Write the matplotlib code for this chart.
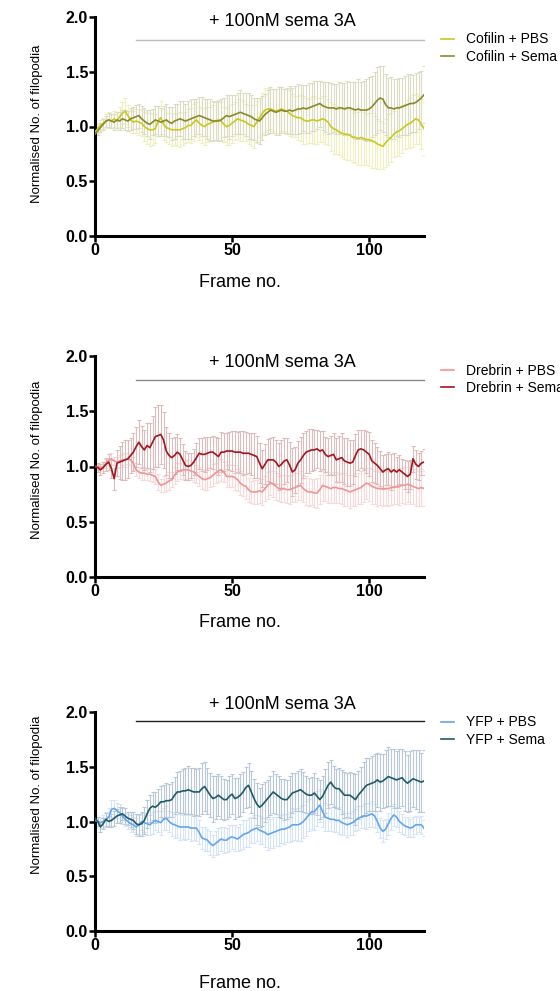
import matplotlib
matplotlib.use("Agg")
import matplotlib.pyplot as plt
import numpy as np

plt.rcParams['font.family'] = ['Liberation Sans', 'DejaVu Sans']

frames = list(range(121))

cofilin_pbs = [0.95, 0.98, 1.01, 1.03, 1.05, 1.06, 1.05, 1.07, 1.05, 1.09,
               1.12, 1.14, 1.10, 1.06, 1.04, 1.05, 1.04, 1.03, 1.00, 0.98,
               0.97, 0.97, 0.98, 1.05, 1.08, 1.02, 0.99, 0.98, 0.97, 0.97,
               0.97, 0.97, 0.98, 0.99, 1.01, 1.01, 1.04, 1.06, 1.03, 1.01,
               1.00, 1.02, 1.03, 1.04, 1.05, 1.06, 1.05, 1.02, 1.00, 1.01,
               1.03, 1.05, 1.07, 1.06, 1.05, 1.04, 1.02, 1.01, 1.00, 1.04,
               1.08, 1.12, 1.15, 1.16, 1.16, 1.15, 1.14, 1.15, 1.16, 1.15,
               1.14, 1.12, 1.10, 1.09, 1.08, 1.08, 1.06, 1.05, 1.05, 1.06,
               1.06, 1.05, 1.06, 1.07, 1.06, 1.04, 1.00, 0.98, 0.97, 0.95,
               0.94, 0.93, 0.93, 0.92, 0.90, 0.90, 0.89, 0.90, 0.89, 0.88,
               0.88, 0.87, 0.86, 0.84, 0.83, 0.82, 0.85, 0.88, 0.90, 0.93,
               0.95, 0.96, 0.98, 1.00, 1.02, 1.03, 1.05, 1.07, 1.06, 1.02,
               0.98]
cofilin_sema = [0.93, 0.96, 0.99, 1.02, 1.05, 1.06, 1.05, 1.04, 1.06, 1.05,
                1.07, 1.06, 1.05, 1.07, 1.08, 1.09, 1.10, 1.07, 1.05, 1.03,
                1.02, 1.04, 1.06, 1.05, 1.04, 1.05, 1.06, 1.04, 1.03, 1.05,
                1.06, 1.07, 1.06, 1.05, 1.06, 1.07, 1.08, 1.09, 1.10, 1.09,
                1.08, 1.07, 1.06, 1.05, 1.05, 1.05, 1.06, 1.08, 1.10, 1.09,
                1.10, 1.11, 1.12, 1.13, 1.12, 1.11, 1.10, 1.09, 1.07, 1.06,
                1.05, 1.08, 1.11, 1.13, 1.15, 1.14, 1.13, 1.14, 1.15, 1.14,
                1.14, 1.15, 1.14, 1.15, 1.16, 1.16, 1.17, 1.16, 1.17, 1.18,
                1.19, 1.20, 1.21, 1.19, 1.18, 1.17, 1.17, 1.17, 1.16, 1.17,
                1.17, 1.16, 1.17, 1.17, 1.16, 1.15, 1.16, 1.15, 1.15, 1.15,
                1.16, 1.18, 1.21, 1.24, 1.26, 1.25, 1.20, 1.17, 1.17, 1.16,
                1.17, 1.17, 1.18, 1.19, 1.20, 1.21, 1.21, 1.22, 1.24, 1.26,
                1.29]
cofilin_pbs_err = [0.03, 0.04, 0.05, 0.05, 0.06, 0.07, 0.06, 0.07, 0.08, 0.09,
                   0.10, 0.12, 0.10, 0.09, 0.10, 0.11, 0.12, 0.12, 0.13, 0.14,
                   0.15, 0.14, 0.13, 0.14, 0.15, 0.14, 0.13, 0.14, 0.15, 0.14,
                   0.15, 0.16, 0.15, 0.14, 0.15, 0.16, 0.17, 0.16, 0.15, 0.16,
                   0.17, 0.16, 0.15, 0.16, 0.17, 0.18, 0.17, 0.16, 0.17, 0.18,
                   0.18, 0.17, 0.18, 0.19, 0.18, 0.17, 0.18, 0.19, 0.20, 0.19,
                   0.18, 0.19, 0.20, 0.19, 0.18, 0.19, 0.20, 0.21, 0.20, 0.19,
                   0.20, 0.21, 0.20, 0.19, 0.20, 0.21, 0.22, 0.21, 0.20, 0.21,
                   0.22, 0.21, 0.20, 0.21, 0.22, 0.21, 0.22, 0.23, 0.22, 0.21,
                   0.22, 0.23, 0.24, 0.23, 0.22, 0.23, 0.24, 0.25, 0.24, 0.23,
                   0.24, 0.25, 0.24, 0.23, 0.22, 0.21, 0.22, 0.23, 0.22, 0.21,
                   0.22, 0.23, 0.22, 0.21, 0.22, 0.23, 0.24, 0.23, 0.22, 0.23,
                   0.24]
cofilin_sema_err = [0.03, 0.04, 0.04, 0.05, 0.05, 0.06, 0.06, 0.07, 0.07, 0.08,
                    0.08, 0.09, 0.09, 0.10, 0.10, 0.11, 0.11, 0.12, 0.12, 0.12,
                    0.13, 0.12, 0.13, 0.14, 0.13, 0.14, 0.15, 0.14, 0.15, 0.16,
                    0.15, 0.16, 0.17, 0.16, 0.17, 0.18, 0.17, 0.16, 0.17, 0.18,
                    0.17, 0.18, 0.19, 0.18, 0.17, 0.18, 0.19, 0.18, 0.19, 0.20,
                    0.19, 0.18, 0.19, 0.20, 0.19, 0.20, 0.21, 0.20, 0.19, 0.20,
                    0.21, 0.20, 0.19, 0.20, 0.21, 0.20, 0.21, 0.22, 0.21, 0.20,
                    0.21, 0.22, 0.21, 0.22, 0.23, 0.22, 0.21, 0.22, 0.23, 0.22,
                    0.23, 0.22, 0.21, 0.22, 0.23, 0.24, 0.23, 0.22, 0.23, 0.24,
                    0.23, 0.24, 0.25, 0.24, 0.25, 0.26, 0.27, 0.26, 0.27, 0.28,
                    0.29, 0.28, 0.29, 0.30, 0.29, 0.30, 0.28, 0.27, 0.28, 0.27,
                    0.26, 0.27, 0.26, 0.27, 0.28, 0.27, 0.26, 0.27, 0.26, 0.25,
                    0.26]

drebrin_pbs = [1.00, 1.00, 0.99, 1.00, 1.03, 1.06, 1.07, 1.05, 1.04, 1.05,
               1.06, 1.06, 1.07, 1.06, 1.03, 0.97, 0.95, 0.94, 0.94, 0.93,
               0.93, 0.92, 0.91, 0.86, 0.83, 0.84, 0.85, 0.87, 0.88, 0.92,
               0.95, 0.96, 0.97, 0.97, 0.97, 0.96, 0.95, 0.93, 0.91, 0.89,
               0.88, 0.89, 0.90, 0.92, 0.94, 0.96, 0.97, 0.95, 0.91, 0.91,
               0.91, 0.90, 0.88, 0.85, 0.83, 0.82, 0.79, 0.77, 0.77, 0.77,
               0.78, 0.77, 0.80, 0.83, 0.85, 0.84, 0.82, 0.80, 0.80, 0.80,
               0.79, 0.79, 0.80, 0.81, 0.82, 0.83, 0.80, 0.78, 0.77, 0.77,
               0.76, 0.76, 0.79, 0.83, 0.82, 0.81, 0.80, 0.81, 0.81, 0.80,
               0.80, 0.79, 0.78, 0.77, 0.78, 0.79, 0.80, 0.81, 0.83, 0.85,
               0.84, 0.82, 0.81, 0.80, 0.80, 0.80, 0.80, 0.80, 0.81, 0.81,
               0.82, 0.82, 0.83, 0.83, 0.84, 0.83, 0.82, 0.81, 0.80, 0.81,
               0.80]
drebrin_sema = [1.00, 0.99, 0.97, 0.99, 1.02, 1.04, 0.98, 0.89, 1.03, 1.04,
                1.05, 1.06, 1.07, 1.10, 1.13, 1.18, 1.22, 1.18, 1.15, 1.19,
                1.17, 1.22, 1.27, 1.28, 1.29, 1.24, 1.14, 1.10, 1.08, 1.10,
                1.13, 1.11, 1.06, 1.01, 1.00, 1.01, 1.04, 1.08, 1.12, 1.11,
                1.11, 1.12, 1.13, 1.13, 1.11, 1.09, 1.13, 1.13, 1.14, 1.14,
                1.14, 1.13, 1.13, 1.13, 1.12, 1.12, 1.12, 1.11, 1.10, 1.09,
                1.03, 0.98, 1.02, 1.06, 1.06, 1.06, 1.04, 1.00, 1.02, 1.05,
                1.06, 1.01, 0.95, 0.97, 1.03, 1.06, 1.10, 1.13, 1.14, 1.15,
                1.15, 1.16, 1.14, 1.15, 1.11, 1.09, 1.10, 1.11, 1.06, 1.07,
                1.08, 1.05, 1.04, 1.03, 1.04, 1.10, 1.15, 1.16, 1.15, 1.13,
                1.11, 1.05, 1.03, 1.01, 0.98, 0.95, 0.97, 0.98, 0.95, 0.97,
                0.95, 0.97, 0.95, 0.93, 0.91, 0.93, 1.07, 1.02, 1.00, 1.03,
                1.04]
drebrin_pbs_err = [0.02, 0.03, 0.03, 0.04, 0.04, 0.05, 0.05, 0.04, 0.05, 0.05,
                   0.05, 0.06, 0.05, 0.05, 0.06, 0.06, 0.05, 0.06, 0.06, 0.05,
                   0.06, 0.06, 0.07, 0.07, 0.06, 0.07, 0.07, 0.08, 0.07, 0.08,
                   0.08, 0.07, 0.08, 0.08, 0.09, 0.08, 0.09, 0.08, 0.09, 0.09,
                   0.09, 0.10, 0.09, 0.10, 0.09, 0.10, 0.10, 0.09, 0.10, 0.10,
                   0.10, 0.11, 0.10, 0.11, 0.10, 0.11, 0.11, 0.10, 0.11, 0.11,
                   0.11, 0.12, 0.11, 0.12, 0.11, 0.12, 0.12, 0.11, 0.12, 0.12,
                   0.12, 0.13, 0.12, 0.13, 0.12, 0.13, 0.12, 0.13, 0.13, 0.12,
                   0.13, 0.14, 0.13, 0.14, 0.13, 0.14, 0.13, 0.14, 0.14, 0.13,
                   0.14, 0.15, 0.14, 0.15, 0.14, 0.15, 0.14, 0.15, 0.15, 0.14,
                   0.15, 0.16, 0.15, 0.16, 0.15, 0.16, 0.15, 0.16, 0.16, 0.15,
                   0.16, 0.17, 0.16, 0.17, 0.16, 0.17, 0.16, 0.17, 0.16, 0.17,
                   0.16]
drebrin_sema_err = [0.03, 0.04, 0.05, 0.05, 0.06, 0.07, 0.08, 0.10, 0.12, 0.15,
                    0.17, 0.18, 0.17, 0.16, 0.17, 0.18, 0.20, 0.19, 0.18, 0.20,
                    0.22, 0.24, 0.27, 0.28, 0.27, 0.25, 0.22, 0.20, 0.18, 0.17,
                    0.16, 0.15, 0.14, 0.13, 0.12, 0.11, 0.12, 0.13, 0.14, 0.15,
                    0.16, 0.15, 0.14, 0.15, 0.16, 0.17, 0.18, 0.17, 0.16, 0.17,
                    0.18, 0.19, 0.18, 0.19, 0.20, 0.19, 0.18, 0.19, 0.20, 0.19,
                    0.18, 0.17, 0.18, 0.19, 0.20, 0.21, 0.20, 0.21, 0.22, 0.21,
                    0.20, 0.21, 0.22, 0.21, 0.20, 0.21, 0.20, 0.19, 0.20, 0.19,
                    0.18, 0.17, 0.18, 0.17, 0.16, 0.17, 0.18, 0.19, 0.20, 0.21,
                    0.22, 0.21, 0.22, 0.21, 0.20, 0.19, 0.18, 0.17, 0.18, 0.19,
                    0.20, 0.19, 0.18, 0.17, 0.16, 0.15, 0.14, 0.15, 0.16, 0.15,
                    0.14, 0.13, 0.12, 0.13, 0.14, 0.13, 0.12, 0.13, 0.12, 0.11,
                    0.12]

yfp_pbs = [1.01, 1.00, 0.99, 1.00, 1.02, 1.04, 1.11, 1.12, 1.10, 1.08,
           1.05, 1.02, 1.00, 0.98, 0.97, 0.95, 0.97, 1.00, 0.99, 0.98,
           0.97, 0.99, 1.01, 1.00, 0.99, 1.02, 1.03, 1.00, 0.98, 0.97,
           0.96, 0.95, 0.95, 0.95, 0.95, 0.94, 0.94, 0.94, 0.90, 0.85,
           0.84, 0.83, 0.80, 0.78, 0.80, 0.82, 0.84, 0.83, 0.83, 0.85,
           0.86, 0.85, 0.84, 0.86, 0.88, 0.89, 0.90, 0.92, 0.93, 0.94,
           0.92, 0.91, 0.90, 0.88, 0.89, 0.90, 0.91, 0.92, 0.93, 0.93,
           0.94, 0.95, 0.97, 0.97, 0.97, 0.98, 1.00, 1.03, 1.06, 1.09,
           1.09, 1.12, 1.15, 1.09, 1.04, 1.03, 1.02, 1.02, 1.01, 1.01,
           0.99, 0.98, 0.97, 0.98, 0.99, 1.01, 1.03, 1.04, 1.05, 1.05,
           1.06, 1.07, 1.05, 1.00, 0.94, 0.91, 0.93, 0.98, 1.03, 1.06,
           1.04, 1.00, 0.98, 0.96, 0.95, 0.94, 0.95, 0.97, 0.97, 0.97,
           0.94]
yfp_sema = [1.03, 1.00, 0.95, 0.98, 1.02, 1.00, 1.01, 1.03, 1.05, 1.06,
            1.07, 1.05, 1.03, 1.02, 1.01, 0.98, 0.97, 0.98, 1.01, 1.07,
            1.12, 1.14, 1.13, 1.15, 1.18, 1.18, 1.19, 1.19, 1.20, 1.24,
            1.27, 1.27, 1.28, 1.28, 1.29, 1.28, 1.27, 1.27, 1.27, 1.30,
            1.32, 1.28, 1.24, 1.21, 1.22, 1.24, 1.22, 1.20, 1.20, 1.23,
            1.25, 1.21, 1.22, 1.24, 1.27, 1.31, 1.33, 1.27, 1.21, 1.16,
            1.13, 1.15, 1.18, 1.21, 1.24, 1.27, 1.25, 1.23, 1.21, 1.20,
            1.20, 1.23, 1.26, 1.27, 1.28, 1.29, 1.27, 1.25, 1.24, 1.24,
            1.26, 1.23, 1.20, 1.23, 1.28, 1.33, 1.36, 1.32, 1.30, 1.30,
            1.27, 1.24, 1.24, 1.24, 1.22, 1.20, 1.24, 1.27, 1.30, 1.33,
            1.34, 1.35, 1.36, 1.38, 1.36, 1.37, 1.39, 1.41, 1.40, 1.39,
            1.38, 1.39, 1.40, 1.37, 1.35, 1.37, 1.39, 1.38, 1.37, 1.36,
            1.37]
yfp_pbs_err = [0.03, 0.04, 0.05, 0.06, 0.07, 0.08, 0.09, 0.08, 0.07, 0.08,
               0.07, 0.06, 0.07, 0.08, 0.07, 0.08, 0.09, 0.08, 0.09, 0.10,
               0.09, 0.10, 0.09, 0.10, 0.11, 0.10, 0.11, 0.10, 0.11, 0.12,
               0.11, 0.12, 0.11, 0.12, 0.11, 0.12, 0.11, 0.12, 0.11, 0.10,
               0.11, 0.10, 0.11, 0.10, 0.11, 0.12, 0.11, 0.12, 0.11, 0.12,
               0.11, 0.12, 0.11, 0.12, 0.13, 0.12, 0.13, 0.12, 0.13, 0.12,
               0.13, 0.12, 0.13, 0.14, 0.13, 0.14, 0.13, 0.14, 0.13, 0.14,
               0.13, 0.14, 0.15, 0.14, 0.15, 0.16, 0.15, 0.16, 0.15, 0.16,
               0.17, 0.16, 0.15, 0.14, 0.13, 0.12, 0.11, 0.12, 0.11, 0.12,
               0.11, 0.10, 0.11, 0.10, 0.11, 0.10, 0.11, 0.10, 0.11, 0.12,
               0.11, 0.12, 0.11, 0.10, 0.09, 0.10, 0.09, 0.10, 0.11, 0.10,
               0.09, 0.10, 0.09, 0.08, 0.09, 0.08, 0.09, 0.08, 0.07, 0.08,
               0.07]
yfp_sema_err = [0.03, 0.04, 0.05, 0.05, 0.06, 0.05, 0.06, 0.07, 0.06, 0.07,
                0.06, 0.07, 0.06, 0.07, 0.08, 0.09, 0.10, 0.11, 0.12, 0.13,
                0.12, 0.13, 0.14, 0.15, 0.14, 0.15, 0.16, 0.15, 0.16, 0.17,
                0.18, 0.19, 0.20, 0.21, 0.22, 0.21, 0.22, 0.21, 0.22, 0.23,
                0.22, 0.21, 0.20, 0.21, 0.20, 0.19, 0.20, 0.19, 0.18, 0.19,
                0.18, 0.19, 0.18, 0.19, 0.18, 0.19, 0.20, 0.19, 0.18, 0.19,
                0.18, 0.19, 0.18, 0.17, 0.18, 0.19, 0.18, 0.19, 0.18, 0.19,
                0.18, 0.19, 0.18, 0.17, 0.18, 0.19, 0.18, 0.17, 0.16, 0.17,
                0.18, 0.17, 0.18, 0.19, 0.20, 0.21, 0.20, 0.19, 0.18, 0.19,
                0.20, 0.21, 0.20, 0.21, 0.22, 0.23, 0.22, 0.23, 0.24, 0.25,
                0.24, 0.25, 0.26, 0.25, 0.26, 0.25, 0.26, 0.27, 0.26, 0.27,
                0.26, 0.27, 0.26, 0.27, 0.26, 0.27, 0.26, 0.27, 0.28, 0.27,
                0.28]

treatment_label = "+ 100nM sema 3A"
treatment_start = 15
treatment_end = 120

panels = [
    dict(pos=[95, 17, 329, 219],
         series=[("Cofilin + PBS", cofilin_pbs, cofilin_pbs_err, '#c9c91e', '#efefbf'),
                 ("Cofilin + Sema", cofilin_sema, cofilin_sema_err, '#8a8a26', '#dcdcc4')],
         bar_y=1.79, bar_color='#bdbdbd', text_y=1.96,
         leg_y=0.955, ylab_y=0.51, xlab_y=-0.175),
    dict(pos=[95, 356, 329, 221],
         series=[("Drebrin + PBS", drebrin_pbs, drebrin_pbs_err, '#f29494', '#f7dada'),
                 ("Drebrin + Sema", drebrin_sema, drebrin_sema_err, '#a3161f', '#dcbcbc')],
         bar_y=1.78, bar_color='#8a8a8a', text_y=1.94,
         leg_y=0.99, ylab_y=0.53, xlab_y=-0.168),
    dict(pos=[95, 712, 329, 219],
         series=[("YFP + PBS", yfp_pbs, yfp_pbs_err, '#62a6f0', '#d6e4f4'),
                 ("YFP + Sema", yfp_sema, yfp_sema_err, '#1e5a68', '#b8c8d8')],
         bar_y=1.92, bar_color='#222222', text_y=2.07,
         leg_y=1.01, ylab_y=0.62, xlab_y=-0.2),
]

W, H = 560, 991
fig = plt.figure(figsize=(W / 100, H / 100), dpi=100)

for p in panels:
    x0, y0, w, h = p['pos']
    ax = fig.add_axes([x0 / W, 1 - (y0 + h) / H, w / W, h / H])
    x = np.array(frames)
    for name, vals, err, lc, ec in p['series']:
        ax.errorbar(x, vals, yerr=err, fmt='none', ecolor=ec, elinewidth=0.8,
                    capsize=1.6, capthick=0.8, zorder=1)
    for name, vals, err, lc, ec in p['series']:
        ax.plot(x, vals, color=lc, lw=1.2, label=name, zorder=3)

    ax.set_xlim(0, 120)
    ax.set_ylim(0, 2.0)
    ax.set_xticks([0, 50, 100])
    ax.set_yticks([0.0, 0.5, 1.0, 1.5, 2.0])
    ax.set_yticklabels(['0.0', '0.5', '1.0', '1.5', '2.0'])
    for s in ['top', 'right']:
        ax.spines[s].set_visible(False)
    for s in ['left', 'bottom']:
        ax.spines[s].set_linewidth(2.2)
    ax.tick_params(axis='both', direction='out', length=4, width=1.8,
                   labelsize=11.5, pad=1)
    for lab in ax.get_xticklabels() + ax.get_yticklabels():
        lab.set_fontweight('bold')

    ax.set_xlabel("Frame no.", fontsize=13)
    ax.xaxis.set_label_coords(0.44, p['xlab_y'])
    ax.set_ylabel("Normalised No. of filopodia", fontsize=9.5)
    ax.yaxis.set_label_coords(-0.158, p['ylab_y'])

    ax.plot([treatment_start, treatment_end], [p['bar_y'], p['bar_y']],
            color=p['bar_color'], lw=1.0, clip_on=False, zorder=2)
    ax.text(68.5, p['text_y'], treatment_label, ha='center', va='center',
            fontsize=13, clip_on=False)

    leg = ax.legend(loc='upper left', bbox_to_anchor=(1.035, p['leg_y']),
                    frameon=False, fontsize=10, handlelength=0.9,
                    handletextpad=0.9, labelspacing=0.25, borderaxespad=0)

fig.savefig("out.png", dpi=100)
